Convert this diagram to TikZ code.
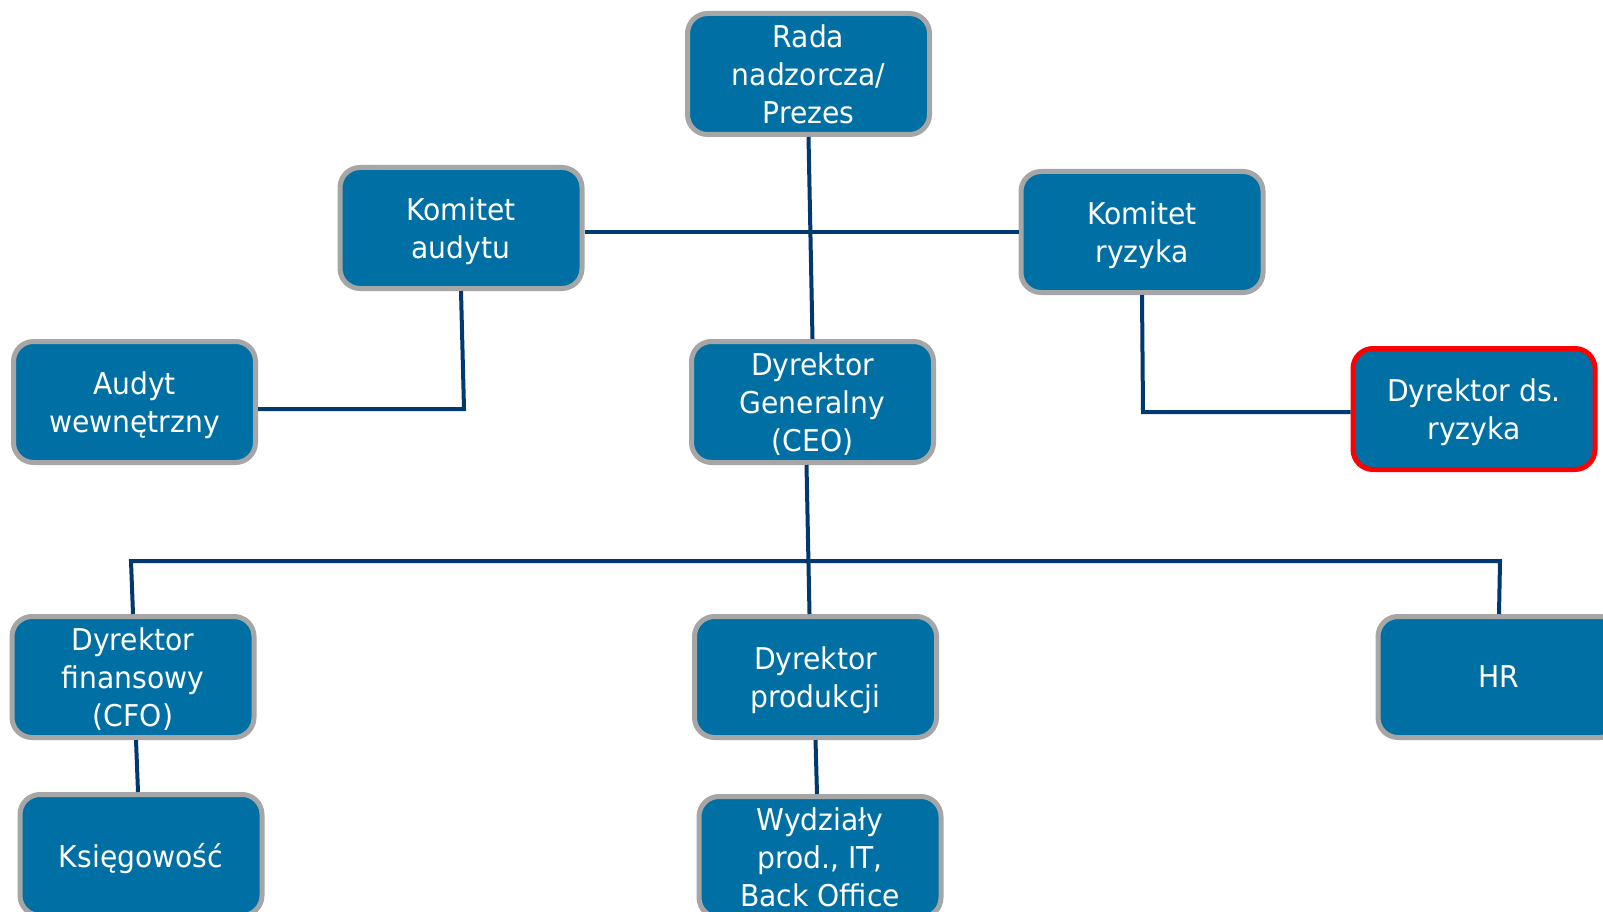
\documentclass[tikz,border=0pt]{standalone}
\usepackage{fontspec}
\setmainfont{DejaVu Sans}[FakeStretch=0.94]
\usetikzlibrary{calc}
\definecolor{boxblue}{RGB}{0,112,164}
\definecolor{boxgray}{RGB}{166,166,166}
\definecolor{linenavy}{RGB}{0,56,112}
\definecolor{alertred}{RGB}{255,0,0}
\begin{document}
\begin{tikzpicture}[x=1pt,y=-1pt,
  orgbox/.style={draw=boxgray, line width=5pt, fill=boxblue, rounded corners=20pt,
    minimum width=242pt, minimum height=121pt, text=white, align=center,
    font=\fontsize{30}{38}\selectfont, inner sep=0pt, text depth=0pt},
  riskbox/.style={orgbox, draw=alertred},
  link/.style={draw=linenavy, line width=4pt}]
\useasboundingbox (0,0) rectangle (1603,912);
\fill[white] (0,0) rectangle (1603,912);

\coordinate (ca) at (464,409);
\coordinate (cr) at (1143,412);
\coordinate (busL) at (131,561);
\coordinate (busR) at (1500,561);

\node[orgbox] (rada) at (808.5,74) {Rada\\nadzorcza/\\Prezes};
\node[orgbox] (kaud) at (461,228) {Komitet\\audytu};
\node[orgbox] (kryz) at (1142,232) {Komitet\\ryzyka};
\node[orgbox] (audyt) at (134.5,402) {Audyt\\wewnętrzny};
\node[orgbox] (ceo) at (812.5,402) {Dyrektor\\Generalny\\(CEO)};
\node[riskbox] (dryz) at (1474,409) {Dyrektor ds.\\ryzyka};
\node[orgbox] (cfo) at (133,677) {Dyrektor\\finansowy\\(CFO)};
\node[orgbox] (prod) at (815.5,677) {Dyrektor\\produkcji};
\node[orgbox] (hr) at (1499,677) {HR};
\node[orgbox] (ksieg) at (141,855) {Księgowość};
\node[orgbox] (wydz) at (820,857) {Wydziały\\prod., IT,\\Back Office};

\draw[link] (rada.south) -- (ceo.north);
\draw[link] (kaud.east |- kryz.west) -- (kryz.west);
\draw[link] (kaud.south) -- (ca) -- (audyt.east |- ca);
\draw[link] (kryz.south) -- (cr) -- (dryz.west |- cr);
\draw[link] ([xshift=-6pt]ceo.south) -- ([xshift=-6pt]prod.north);
\draw[link] (cfo.north) -- (busL) -- (busR) -- (hr.north);
\draw[link] ([xshift=3pt]cfo.south) -- ([xshift=-3pt]ksieg.north);
\draw[link] (prod.south) -- ([xshift=-3pt]wydz.north);
\end{tikzpicture}
\end{document}
